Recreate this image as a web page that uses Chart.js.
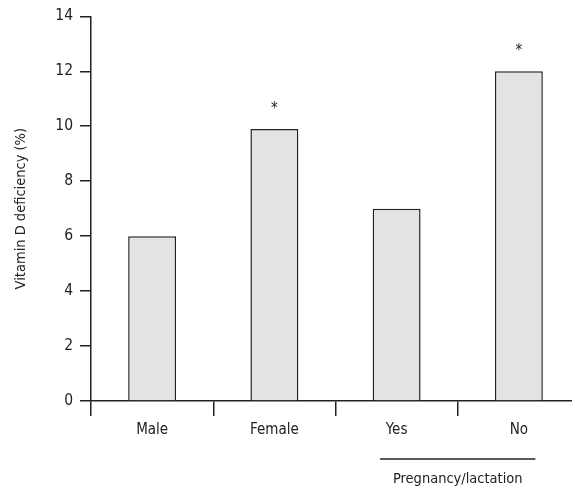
<!DOCTYPE html>
<html>
<head>
<meta charset="utf-8">
<script src="https://cdn.jsdelivr.net/npm/chart.js@4"></script>
<style>
  body { margin:0; background:#fff; overflow:hidden; }
  #wrap { width:580px; height:493px; position:relative; }
</style>
</head>
<body>
<div id="wrap"><canvas id="chart"></canvas></div>
<script>
const FONT = "'DejaVu Sans Condensed', 'Liberation Sans Narrow', sans-serif";

// ===== DATA =====
const categories = ["Male", "Female", "Yes", "No"];
const deficiency = [6, 9.9, 7, 12];
const significant = [false, true, false, true];
const yTicks = [0, 2, 4, 6, 8, 10, 12, 14];
const groupLabel = "Pregnancy/lactation";
const groupFrom = "Yes";
const groupTo = "No";

// ===== PLUGIN: asterisks + group label =====
const extras = {
    id: "extras",
    afterDatasetsDraw(chart){
        const ctx = chart.ctx;
        const meta = chart.getDatasetMeta(0);
        ctx.save();
        ctx.fillStyle = "#222";
        ctx.textAlign = "center";
        ctx.textBaseline = "middle";
        ctx.font = "15px " + FONT;
        meta.data.forEach((bar,i)=>{
            if(significant[i]) ctx.fillText("*", bar.x, bar.y - 20);
        });

        const x = chart.scales.x;
        const a = x.getPixelForValue(categories.indexOf(groupFrom));
        const b = x.getPixelForValue(categories.indexOf(groupTo));
        const cat = b - a;
        const mid = (a + b) / 2;
        const half = cat * 0.635;
        const lineY = chart.chartArea.bottom + 58;
        ctx.strokeStyle = "#222";
        ctx.lineWidth = 1.5;
        ctx.beginPath();
        ctx.moveTo(mid - half, lineY);
        ctx.lineTo(mid + half, lineY);
        ctx.stroke();
        ctx.font = "14.5px " + FONT;
        ctx.fillText(groupLabel, mid, lineY + 20);
        ctx.restore();
    }
};

// ===== CHART =====
const ctx = document.getElementById("chart").getContext("2d");
new Chart(ctx, {
    type: "bar",
    data: {
        labels: categories,
        datasets: [{
            data: deficiency,
            backgroundColor: "#e3e3e3",
            borderColor: "#222",
            borderWidth: 1.5,
            barPercentage: 0.49,
            categoryPercentage: 0.8
        }]
    },
    options: {
        responsive: true,
        maintainAspectRatio: false,
        animation: false,
        layout: { padding: { top: 3, right: 0, bottom: 0, left: 0 } },
        plugins: { legend: { display: false }, tooltip: { enabled: false } },
        scales: {
            x: {
                grid: { drawOnChartArea: false, tickLength: 15, color: "#222", lineWidth: 1.5 },
                border: { color: "#222", width: 1.5 },
                ticks: { color: "#222", padding: 5, font: { family: FONT, size: 15 } },
                afterFit(s){ s.height = 92; }
            },
            y: {
                min: 0,
                max: 14,
                afterBuildTicks(s){ s.ticks = yTicks.map(v=>({value:v})); },
                grid: { drawOnChartArea: false, tickLength: 11, color: "#222", lineWidth: 1.5 },
                border: { color: "#222", width: 1.5 },
                ticks: { color: "#222", padding: 7, font: { family: FONT, size: 15.5 } },
                title: { display: true, text: "Vitamin D deficiency (%)", color: "#222",
                         padding: { top: 13, bottom: 0 },
                         font: { family: FONT, size: 14.5 } },
                afterFit(s){ s.width = 91; }
            }
        }
    },
    plugins: [extras]
});
</script>
</body>
</html>
